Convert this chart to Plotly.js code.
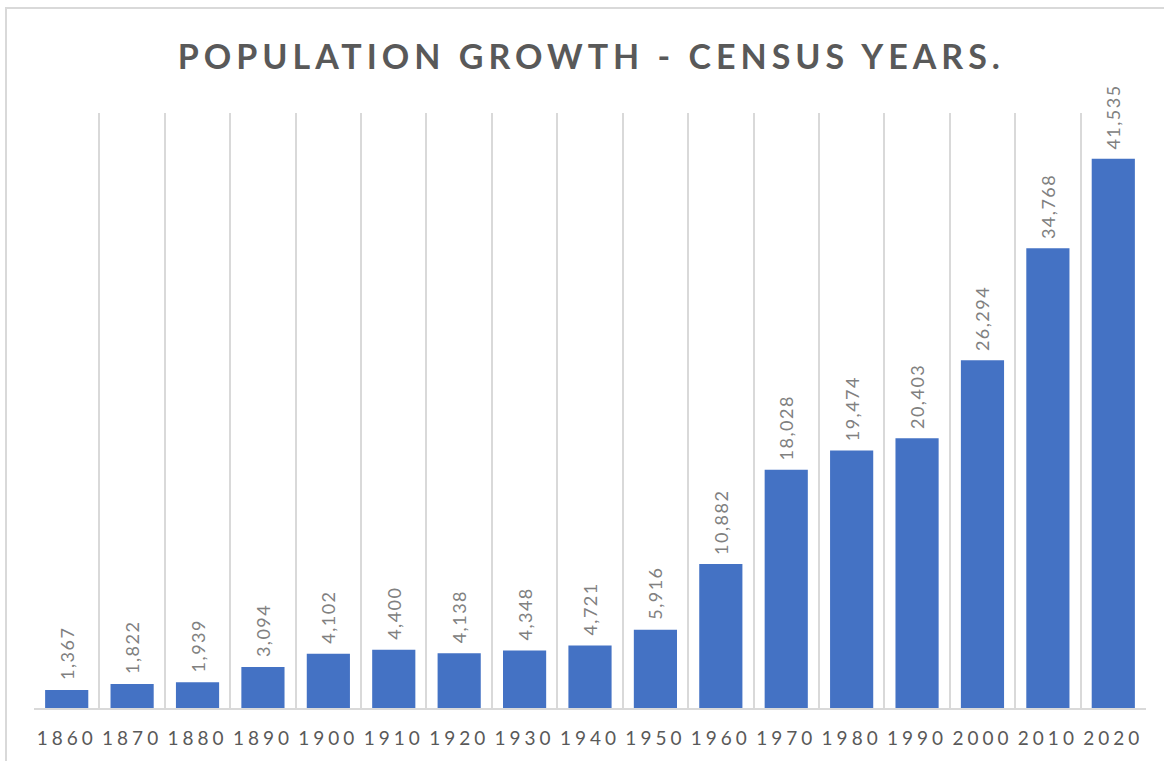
<!DOCTYPE html>
<html>
<head>
<meta charset="utf-8">
<script src="https://cdn.plot.ly/plotly-3.0.1.min.js"></script>
<style>
  html, body { margin: 0; padding: 0; background: #ffffff; overflow: hidden; }
  #frame { position: absolute; left: 5px; top: 7px; width: 1180px; height: 780px; border: 2px solid #d9d9d9; box-sizing: border-box; }
  #chart { position: absolute; left: 0; top: 0; width: 1164px; height: 761px; }
  #chart .gtitle { letter-spacing: 5px; }
  #chart .xtick text { letter-spacing: 4px; }
  #chart .bartext text, #chart text.bartext { letter-spacing: 1.5px; }
</style>
</head>
<body>
<div id="frame"></div>
<div id="chart"></div>
<script>
const years = ["1860","1870","1880","1890","1900","1910","1920","1930","1940","1950","1960","1970","1980","1990","2000","2010","2020"];
const population = [1367,1822,1939,3094,4102,4400,4138,4348,4721,5916,10882,18028,19474,20403,26294,34768,41535];
const chartTitle = "POPULATION GROWTH - CENSUS YEARS.";

const trace = {
  type: "bar",
  x: years,
  y: population,
  marker: { color: "#4472C4" },
  texttemplate: "\u00a0\u00a0%{y:,}",
  textposition: "outside",
  textangle: -90,
  constraintext: "none",
  cliponaxis: false,
  textfont: { family: "Lato, 'Open Sans', sans-serif", size: 18, color: "#808080" },
  hoverinfo: "x+y"
};

const layout = {
  width: 1164,
  height: 761,
  margin: { l: 34, r: 18, t: 113, b: 53, pad: 0 },
  paper_bgcolor: "rgba(0,0,0,0)",
  plot_bgcolor: "rgba(0,0,0,0)",
  bargap: 0.34,
  showlegend: false,
  title: {
    text: "<b>" + chartTitle + "</b>",
    x: 0.508, xanchor: "center",
    y: 0.925, yanchor: "middle",
    font: { family: "Lato, 'Open Sans', sans-serif", size: 34, color: "#595959" }
  },
  xaxis: {
    type: "category",
    tickson: "boundaries",
    showgrid: true,
    gridcolor: "#d9d9d9",
    gridwidth: 2,
    ticks: "",
    showline: true,
    linecolor: "#d9d9d9",
    linewidth: 2,
    tickfont: { family: "Lato, 'Open Sans', sans-serif", size: 19, color: "#595959" },
    ticklabelstandoff: 12,
    fixedrange: true
  },
  yaxis: {
    range: [0, 45000],
    showgrid: false,
    showticklabels: false,
    zeroline: false,
    showline: false,
    ticks: "",
    fixedrange: true
  }
};

Plotly.newPlot("chart", [trace], layout, { displayModeBar: false, staticPlot: true });
</script>
</body>
</html>
